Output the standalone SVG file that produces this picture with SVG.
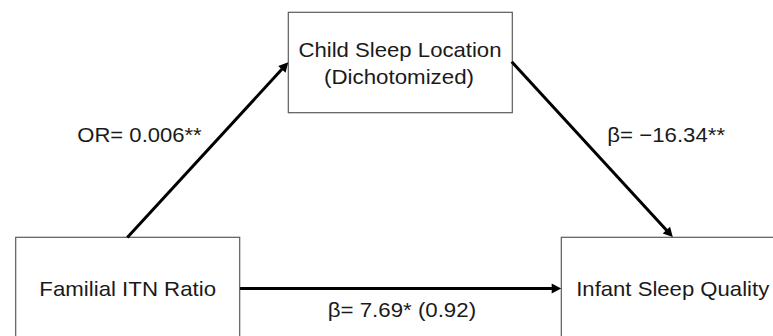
<svg xmlns="http://www.w3.org/2000/svg" width="773" height="336" viewBox="0 0 773 336">
<style>
.box{fill:#ffffff;stroke:#5a5a5a;stroke-width:1.2}
.t{font-family:"Liberation Sans",Arial,sans-serif;font-size:21px;fill:#1a1a1a;text-anchor:middle}
.c{stroke:#000;stroke-width:3;fill:none;marker-end:url(#ah)}
</style>
<defs>
<marker id="ah" markerUnits="userSpaceOnUse" markerWidth="10" markerHeight="11" refX="3" refY="5" orient="auto" overflow="visible">
<path d="M0,0 L9.5,5 L0,10 z" fill="#000"/>
</marker>
</defs>
<rect width="773" height="336" fill="#ffffff"/>
<g id="node-mediator">
<rect class="box" x="288.3" y="12.3" width="224" height="100.4"/>
<text class="t" x="400" y="57.3" textLength="203" lengthAdjust="spacingAndGlyphs">Child Sleep Location</text>
<text class="t" x="399" y="83.5" textLength="150" lengthAdjust="spacingAndGlyphs">(Dichotomized)</text>
</g>
<g id="node-x">
<rect class="box" x="15.7" y="237.3" width="224" height="110"/>
<text class="t" x="127.7" y="295.7" textLength="176.7" lengthAdjust="spacingAndGlyphs">Familial ITN Ratio</text>
</g>
<g id="node-y">
<rect class="box" x="561.3" y="237.3" width="230" height="110"/>
<text class="t" x="672.7" y="295.7" textLength="193" lengthAdjust="spacingAndGlyphs">Infant Sleep Quality</text>
</g>
<g id="connectors">
<line class="c" x1="127.3" y1="237.5" x2="283.9" y2="67.1"/>
<line class="c" x1="511.7" y1="61.7" x2="668.4" y2="232.3"/>
<line class="c" x1="240" y1="288.5" x2="554.7" y2="288.5"/>
</g>
<g id="labels">
<text class="t" x="139.5" y="142.3" textLength="124.4" lengthAdjust="spacingAndGlyphs">OR= 0.006**</text>
<text class="t" x="666.2" y="142.3" textLength="117.7" lengthAdjust="spacingAndGlyphs">β= −16.34**</text>
<text class="t" x="401.9" y="316.7" textLength="148.3" lengthAdjust="spacingAndGlyphs">β= 7.69* (0.92)</text>
</g>
</svg>
